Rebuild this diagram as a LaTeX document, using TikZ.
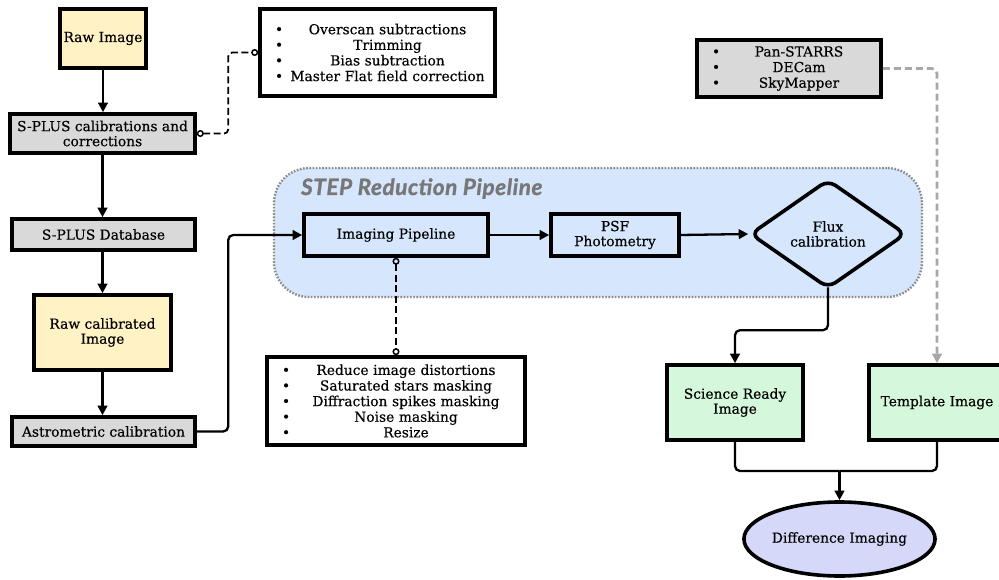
\documentclass[tikz,border=0pt]{standalone}
\usepackage{fontspec}
\setmainfont{DejaVu Serif}[FakeBold=0.35]
\newfontfamily\titlefont{Lato}[FakeBold=1.2,LetterSpace=2.5]
\usetikzlibrary{arrows.meta,shapes.geometric,calc}
\definecolor{yel}{HTML}{FFF2C4}
\definecolor{gry}{HTML}{D9D9D9}
\definecolor{pipeblue}{HTML}{D6E6FC}
\definecolor{grn}{HTML}{D5F7DB}
\definecolor{lav}{HTML}{D6D8FA}
\definecolor{titlegray}{HTML}{777777}
\definecolor{dotgray}{HTML}{8A8A8A}
\definecolor{dashgray}{HTML}{A8A8A8}
\newcommand{\bitem}[2]{\makebox[28pt][l]{\hspace{15pt}\textbullet}\makebox[#1][c]{#2}}
\tikzset{
  box/.style={draw, line width=3.6pt, inner sep=0pt, align=center,
    font=\fontsize{13.8}{15}\selectfont},
  listbox/.style={draw, line width=3.6pt, inner sep=0pt, align=left,
    font=\fontsize{13.8}{15.6}\selectfont},
  conn/.style={line width=2.3pt, rounded corners=5pt},
  arr/.style={conn, -{Triangle[length=9.5pt,width=9.5pt]}},
  dconn/.style={line width=1.8pt, dash pattern=on 7pt off 3.5pt,
    {Circle[open,length=7pt,width=7pt,line width=1.5pt]}-{Circle[open,length=7pt,width=7pt,line width=1.5pt]},
    rounded corners=4pt},
  gconn/.style={line width=2.6pt, draw=dashgray, dash pattern=on 7pt off 4pt,
    rounded corners=5pt, -{Triangle[length=9.5pt,width=9.5pt]}}
}
\begin{document}
\begin{tikzpicture}[x=1pt,y=-1pt]
\useasboundingbox (0,0) rectangle (999,580);
\fill[white] (0,0) rectangle (999,580);

% pipeline container
\node[draw=dotgray, fill=pipeblue, line width=2.4pt, dash pattern=on 1.6pt off 1.6pt,
  rounded corners=35pt, minimum width=648pt, minimum height=129pt, inner sep=0pt]
  (pipe) at (598,232.5) {};
\node[anchor=base west, inner sep=0pt, text=titlegray,
  font=\titlefont\bfseries\itshape\fontsize{22.5}{24}\selectfont]
  (title) at (301,195) {STEP Reduction Pipeline};

% left column
\node[box, fill=yel, minimum width=86pt, minimum height=59pt] (raw) at (103,38.5) {Raw Image};
\node[box, fill=gry, minimum width=185pt, minimum height=39pt] (cal) at (102.5,133.5) {S-PLUS calibrations and\\corrections};
\node[box, fill=gry, minimum width=183pt, minimum height=31pt] (db) at (103.5,234.5) {S-PLUS Database};
\node[box, fill=yel, minimum width=137pt, minimum height=75pt] (rcal) at (102.5,332.5) {Raw calibrated\\Image};
\node[box, fill=gry, minimum width=183pt, minimum height=29pt] (astro) at (103.5,431.5) {Astrometric calibration};

% lists
\node[listbox, fill=white, text width=235pt, minimum height=87pt] (over) at (377.5,52.5)
  {\bitem{199pt}{Overscan subtractions}\\
   \bitem{199pt}{Trimming}\\
   \bitem{199pt}{Bias subtraction}\\
   \bitem{199pt}{Master Flat field correction}};
\node[listbox, fill=white, text width=258pt, minimum height=88pt] (steps) at (396,401)
  {\bitem{222pt}{Reduce image distortions}\\
   \bitem{222pt}{Saturated stars masking}\\
   \bitem{222pt}{Diffraction spikes masking}\\
   \bitem{222pt}{Noise masking}\\
   \bitem{222pt}{Resize}};
\node[listbox, fill=gry, text width=184pt, minimum height=57pt] (pan) at (789,68.5)
  {\bitem{148pt}{Pan-STARRS}\\
   \bitem{148pt}{DECam}\\
   \bitem{148pt}{SkyMapper}};

% pipeline nodes
\node[box, fill=pipeblue, minimum width=184pt, minimum height=42pt] (imgp) at (396,235) {Imaging Pipeline};
\node[box, fill=pipeblue, minimum width=128pt, minimum height=42pt] (psf) at (615,235) {PSF\\Photometry};
\node[box, diamond, fill=pipeblue, rounded corners=9pt, minimum width=156pt, minimum height=109pt] (flux) at (828,234) {Flux\\calibration};

% right side
\node[box, fill=grn, minimum width=136pt, minimum height=75pt] (sci) at (735,402.5) {Science Ready\\Image};
\node[box, fill=grn, minimum width=136pt, minimum height=75pt] (tmpl) at (937,402.5) {Template Image};
\node[box, ellipse, fill=lav, minimum width=183pt, minimum height=74pt] (diff) at (839.5,539) {Difference Imaging};
\coordinate (merge) at (839.5,471);

% connectors
\draw[arr] (raw.south) -- (raw.south |- cal.north);
\draw[arr] (cal.south) -- (cal.south |- db.north);
\draw[arr] (db.south -| rcal.north) -- (rcal.north);
\draw[arr] (rcal.south) -- (rcal.south |- astro.north);
\draw[arr] (astro.east) -| ($(imgp.west)+(-74,0)$) -- (imgp.west);
\draw[arr] (imgp.east) -- (psf.west);
\draw[arr] (psf.east) -- (flux.west);
\draw[arr] ($(flux.south)+(0,-3)$) |- ($(sci.north)+(0,-33)$) -- (sci.north);
\draw[conn] (sci.south) |- (merge);
\draw[conn] (tmpl.south) |- (merge);
\draw[arr] (merge) -- (diff.north);
\draw[dconn] (cal.east) -| ($(over.west)+(-30,0)$) -- (over.west);
\draw[dconn] (imgp.south) -- (steps.north);
\draw[gconn] (pan.east) -| (tmpl.north);
\end{tikzpicture}
\end{document}
